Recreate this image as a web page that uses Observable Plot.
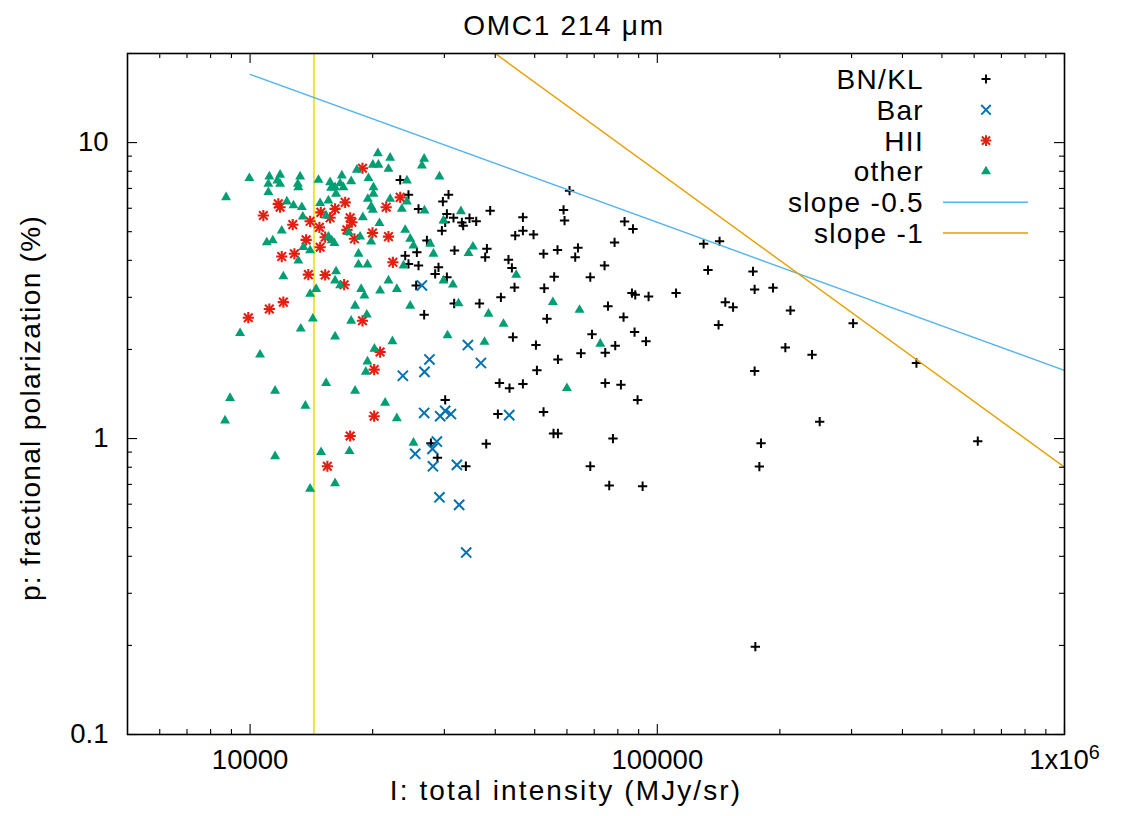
<!DOCTYPE html>
<html>
<head>
<meta charset="utf-8">
<script src="https://cdn.jsdelivr.net/npm/d3@7"></script>
<script src="https://cdn.jsdelivr.net/npm/@observablehq/plot@0.6"></script>
<style>
  html, body { margin: 0; padding: 0; background: #ffffff; }
  #chart svg { display: block; }
</style>
</head>
<body>
<div id="chart"></div>
<script>
// ---------- texts ----------
const titleText = "OMC1 214 μm";
const xLabel = "I: total intensity (MJy/sr)";
const yLabel = "p: fractional polarization (%)";

// ---------- axes ----------
const xDomain = [5000, 1e6];
const yDomain = [0.1, 20];
const xTicksMajor = [1e4, 1e5, 1e6];
const xTickLabels = ["10000", "100000", "1x10^6"];
const xTicksMinor = [6000, 7000, 8000, 9000, 20000, 30000, 40000, 50000, 60000, 70000, 80000, 90000,
  200000, 300000, 400000, 500000, 600000, 700000, 800000, 900000];
const yTicksMajor = [0.1, 1, 10];
const yTickLabels = ["0.1", "1", "10"];
const yTicksMinor = [0.2, 0.3, 0.4, 0.5, 0.6, 0.7, 0.8, 0.9, 2, 3, 4, 5, 6, 7, 8, 9, 20];

// ---------- series ----------
const seriesNames = ["BN/KL", "Bar", "HII", "other"];
const seriesColors = ["#000000", "#0072b2", "#e51e10", "#009e73"];

const bnklI = [23370, 24490, 25920, 29750, 30710, 30430, 30140, 29580, 27180, 25680, 24040, 24490, 25920, 29020, 28480, 30430, 25580,
  26760, 30140, 27800, 28850,
  38870, 31590, 33120, 33370, 34580, 35920, 46770, 46770, 44780, 49670, 58860, 59190, 60880, 83110, 87150, 78540,
  31770, 38160, 37790, 43110, 43950, 52560, 56880, 63850, 62870, 74210, 55820, 68460, 44610, 52770, 41300, 36590, 31710,
  86650, 88280, 95200, 111200, 75660, 53580, 82630, 69130, 87940, 44210,
  50350, 93810, 78840, 74500, 64940, 57020, 50630, 40970, 43360, 46770, 74500, 81420, 89450, 40600, 52560, 55610, 57020, 77820, 38010, 33880, 68460, 76210, 92030,
  129950, 142200, 133200, 171800, 173400, 192400, 146900, 153500, 212300, 141400, 302600, 206300, 239900, 432900, 173400,
  250500, 179800, 178100, 612400, 174100];
const bnklP = [7.48, 6.66, 5.97, 6.32, 6.67, 5.74, 5.38, 5.04, 4.67, 4.26, 4.15, 3.89, 3.84, 3.79, 3.60, 3.51, 3.29,
  2.62, 1.35, 0.964, 0.861,
  5.89, 5.57, 5.37, 5.24, 5.55, 5.42, 5.59, 5.04, 4.85, 4.89, 5.92, 5.45, 6.88, 5.41, 5.11, 4.60,
  4.32, 4.38, 4.10, 4.02, 3.77, 4.21, 4.34, 4.41, 4.10, 3.84, 3.52, 3.51, 3.24, 3.22, 3.00, 2.86, 2.86,
  3.10, 3.06, 3.02, 3.10, 2.80, 2.54, 2.57, 2.25, 2.29, 2.20,
  2.07, 2.13, 2.06, 1.95, 1.94, 1.85, 1.70, 1.54, 1.48, 1.53, 1.54, 1.52, 1.35, 1.21, 1.23, 1.04, 1.04, 1.00, 0.96, 0.806, 0.806, 0.694, 0.690,
  4.55, 4.64, 3.71, 3.67, 3.19, 3.23, 2.89, 2.78, 2.71, 2.42, 2.45, 2.03, 1.92, 1.80, 1.69,
  1.14, 0.964, 0.804, 0.98, 0.198];

const barI = [26420, 27570, 23720, 26810, 26760, 29300, 30140, 31130, 28750, 28050, 25440, 28120, 29180, 34270, 36880, 43290, 32200, 32620, 33940];
const barP = [3.29, 1.85, 1.63, 1.68, 1.22, 1.19, 1.24, 1.21, 0.977, 0.923, 0.888, 0.806, 0.633, 2.07, 1.80, 1.20, 0.815, 0.597, 0.412];

const hiiI = [18880, 23370, 11730, 11850, 10780, 17120, 16170, 14920, 15720, 14040, 12730, 14800, 17610, 17780, 17290, 21590, 19980, 21870, 18040, 15290,
  13730, 14860, 11960, 12850, 22420, 13900, 15290, 17020, 12070, 11150, 9900, 18880, 20860, 20170, 20170, 17610, 15480];
const hiiP = [8.19, 6.53, 6.21, 6.05, 5.67, 6.28, 5.97, 5.81, 5.57, 5.42, 5.28, 5.17, 5.57, 5.38, 5.07, 6.05, 4.95, 4.81, 4.73, 4.79,
  4.69, 4.43, 4.12, 4.21, 3.94, 3.58, 3.57, 3.31, 2.89, 2.74, 2.56, 2.50, 1.96, 1.71, 1.19, 1.02, 0.806];

const otherI = [20600, 22080, 26760, 20020, 20660, 21870, 26420, 9960, 11150, 11850,
  13270, 11670, 11090, 11850, 13100, 13140, 14720, 15720, 16800, 16640,
  17710, 18290, 19530, 15810, 16170, 16950, 20090, 11090, 8730, 16260,
  20090, 15570, 14860, 19460, 22080, 24270, 29180, 24270, 12310, 12780,
  13400, 19830, 20020, 23590, 26810, 13470, 15370, 18920, 20780, 11960,
  10990, 11370, 15570, 15870, 16110, 17450, 18630, 19830, 24040, 24730,
  25190, 27690, 28210, 13520, 14040, 18460, 13140, 18460, 19420, 23810,
  12070, 16260, 16170, 16640, 14530, 14040, 18740, 19090, 20860, 21870,
  22930, 18110, 24730, 29850,
  14260, 17710, 19350, 9450, 13320, 16170, 30540, 22360, 20200, 10580,
  19420, 19240, 15370, 11520, 18110, 8930, 13670, 21460, 8680, 22930,
  25190, 11520, 14940, 17540, 16170, 14040,
  32940, 29850, 35260, 34390, 31480, 32500, 45040, 55410, 64430, 38500, 41910,
  37640, 72440, 59990];
const otherP = [9.20, 8.88, 8.81, 8.41, 8.41, 8.15, 8.36, 7.58, 7.68, 7.78,
  7.68, 7.44, 7.25, 7.25, 7.25, 7.06, 7.48, 7.34, 7.74, 7.28,
  7.40, 8.09, 7.58, 7.03, 7.06, 7.06, 7.06, 6.80, 6.53, 6.71,
  6.71, 6.37, 6.24, 6.45, 6.45, 6.32, 7.68, 7.44, 6.32, 6.13,
  6.05, 6.08, 5.92, 5.97, 5.89, 5.62, 5.67, 5.59, 5.34, 5.04,
  4.60, 4.67, 4.81, 4.67, 4.57, 4.98, 4.81, 4.63, 5.07, 4.73,
  4.49, 4.55, 4.21, 4.43, 4.32, 4.21, 3.99, 3.87, 3.87, 3.84,
  3.53, 3.67, 3.42, 3.29, 3.20, 3.08, 3.20, 3.04, 3.16, 3.42,
  3.20, 2.81, 2.81, 3.42,
  2.54, 2.50, 2.62, 2.27, 2.35, 2.21, 2.23, 2.13, 2.01, 1.92,
  1.82, 1.68, 1.54, 1.45, 1.45, 1.37, 1.29, 1.32, 1.15, 1.17,
  0.967, 0.871, 0.899, 0.906, 0.706, 0.676,
  5.86, 5.45, 4.45, 4.23, 3.31, 2.86, 3.57, 2.89, 2.72, 2.64, 2.44,
  2.12, 2.09, 1.48];

// ---------- model lines  p = coef * I^slope ----------
const lineNames = ["slope -0.5", "slope -1"];
const lineCoef = [1700, 800000];
const lineSlope = [-0.5, -1];
const lineColors = ["#56b4e9", "#e69f00"];
const lineRange = [1e4, 1e6];

// vertical reference line
const cutI = 14350;
const cutColor = "#f0e442";

// ---------- build tables ----------
const zipPts = (I, P) => I.map((v, i) => ({I: v, p: P[i]}));
const bnkl = zipPts(bnklI, bnklP);
const bar = zipPts(barI, barP);
const hii = zipPts(hiiI, hiiP);
const other = zipPts(otherI, otherP);
const lineData = lineNames.map((name, k) =>
  lineRange.map(I => ({name, I, p: lineCoef[k] * Math.pow(I, lineSlope[k])})));

// ---------- layout ----------
const W = 1134, H = 816;
const mL = 127, mR = 70, mT = 53, mB = 82;
const fW = W - mL - mR, fH = H - mT - mB;
const FONT = "'Liberation Sans', Arial, Helvetica, sans-serif";
const textSize = 28;
const tickSize = 27.5;
const majorLen = 10, minorLen = 5;
const triR = 3.7;

const tickStyle = {stroke: "#000", strokeWidth: 1.1};

const svg = Plot.plot({
  width: W,
  height: H,
  marginLeft: mL, marginRight: mR, marginTop: mT, marginBottom: mB,
  style: {fontFamily: FONT, fontSize: tickSize + "px", background: "#ffffff", color: "#000"},
  x: {type: "log", domain: xDomain},
  y: {type: "log", domain: yDomain},
  marks: [
    Plot.ruleX([cutI], {x: d => d, stroke: cutColor, strokeWidth: 2}),
    // data
    Plot.dot(bnkl, {x: "I", y: "p", symbol: "plus", r: 3.1, stroke: seriesColors[0], fill: "none", strokeWidth: 2}),
    Plot.dot(bar, {x: "I", y: "p", symbol: "times", r: 4.7, stroke: seriesColors[1], fill: "none", strokeWidth: 2}),
    Plot.dot(hii, {x: "I", y: "p", symbol: "plus", r: 3.7, stroke: seriesColors[2], fill: "none", strokeWidth: 2.1}),
    Plot.dot(hii, {x: "I", y: "p", symbol: "times", r: 4.0, stroke: seriesColors[2], fill: "none", strokeWidth: 2.1}),
    Plot.dot(other, {x: "I", y: "p", symbol: "triangle", r: triR, fill: seriesColors[3], stroke: "none"}),
    // model lines
    ...lineData.map((seg, k) => Plot.line(seg, {x: "I", y: "p", stroke: lineColors[k], strokeWidth: 1.4, clip: true})),
    // frame and inward ticks (gnuplot style, mirrored)
    Plot.frame({stroke: "#000", strokeWidth: 1.6}),
    Plot.tickX(xTicksMajor, {x: d => d, insetTop: fH - majorLen, ...tickStyle}),
    Plot.tickX(xTicksMajor, {x: d => d, insetBottom: fH - majorLen, ...tickStyle}),
    Plot.tickX(xTicksMinor, {x: d => d, insetTop: fH - minorLen, ...tickStyle}),
    Plot.tickX(xTicksMinor, {x: d => d, insetBottom: fH - minorLen, ...tickStyle}),
    Plot.tickY(yTicksMajor, {y: d => d, insetRight: fW - majorLen, ...tickStyle}),
    Plot.tickY(yTicksMajor, {y: d => d, insetLeft: fW - majorLen, ...tickStyle}),
    Plot.tickY(yTicksMinor, {y: d => d, insetRight: fW - minorLen, ...tickStyle}),
    Plot.tickY(yTicksMinor, {y: d => d, insetLeft: fW - minorLen, ...tickStyle}),
    // tick labels
    Plot.axisX(xTicksMajor, {anchor: "bottom", tickSize: 0, tickPadding: 15, fontSize: tickSize, label: null,
      tickFormat: d => xTickLabels[xTicksMajor.indexOf(d)]}),
    Plot.axisY(yTicksMajor, {anchor: "left", tickSize: 0, tickPadding: 19, fontSize: tickSize, label: null,
      tickFormat: d => yTickLabels[yTicksMajor.indexOf(d)]}),
    // titles (gnuplot centres them on the canvas)
    Plot.text([titleText], {text: d => d, frameAnchor: "top", textAnchor: "middle", lineAnchor: "middle",
      dx: -32, dy: -27, fontSize: textSize, fill: "#000"}),
    Plot.text([xLabel], {text: d => d, frameAnchor: "bottom", textAnchor: "middle", lineAnchor: "middle",
      dx: -30, dy: 57, fontSize: textSize, fill: "#000"}),
    Plot.text([yLabel], {text: d => d, frameAnchor: "left", textAnchor: "middle", lineAnchor: "middle",
      dx: -96, dy: 14, rotate: -90, fontSize: textSize, fill: "#000"})
  ]
});

// letter spacing for the word labels, superscript exponent
const spacingOf = {[titleText]: "1.7px", [xLabel]: "2.1px", [yLabel]: "1.3px"};
d3.select(svg).selectAll("text").each(function () {
  const t = this.textContent;
  if (spacingOf[t]) d3.select(this).style("letter-spacing", spacingOf[t]);
  if (t === "1x10^6") {
    const s = d3.select(this);
    s.text(null);
    s.append("tspan").text("1x10");
    s.append("tspan").attr("dy", "-0.5em").attr("font-size", "0.72em").text("6");
  }
});

// ---------- legend (gnuplot key, top right inside the frame) ----------
const legendItems = [
  {name: seriesNames[0], kind: "sym", syms: [[d3.symbolPlus, 3.0, 1.9]], color: seriesColors[0]},
  {name: seriesNames[1], kind: "sym", syms: [[d3.symbolTimes, 4.4, 1.9]], color: seriesColors[1]},
  {name: seriesNames[2], kind: "sym", syms: [[d3.symbolPlus, 3.5, 2.0], [d3.symbolTimes, 3.8, 2.0]], color: seriesColors[2]},
  {name: seriesNames[3], kind: "tri", color: seriesColors[3]},
  {name: lineNames[0], kind: "line", color: lineColors[0]},
  {name: lineNames[1], kind: "line", color: lineColors[1]}
];
const lg = d3.select(svg).append("g")
  .attr("font-family", FONT).attr("font-size", textSize);
const textRight = 924, symX = 986, lineX1 = 943, lineX2 = 1028;
legendItems.forEach((it, i) => {
  const base = 89 + 30.8 * i;
  const cy = base - 10;
  lg.append("text").attr("x", textRight).attr("y", base).attr("text-anchor", "end")
    .style("letter-spacing", "1.3px").attr("fill", "#000").text(it.name);
  if (it.kind === "sym") {
    it.syms.forEach(([type, r, sw]) => {
      lg.append("path").attr("transform", `translate(${symX},${cy})`)
        .attr("d", d3.symbol(type, Math.PI * r * r)())
        .attr("fill", "none").attr("stroke", it.color).attr("stroke-width", sw);
    });
  } else if (it.kind === "tri") {
    lg.append("path").attr("transform", `translate(${symX},${cy})`)
      .attr("d", d3.symbol(d3.symbolTriangle, Math.PI * triR * triR)())
      .attr("fill", it.color);
  } else {
    lg.append("line").attr("x1", lineX1).attr("x2", lineX2).attr("y1", cy).attr("y2", cy)
      .attr("stroke", it.color).attr("stroke-width", 1.4);
  }
});

document.getElementById("chart").appendChild(svg);
</script>
</body>
</html>
